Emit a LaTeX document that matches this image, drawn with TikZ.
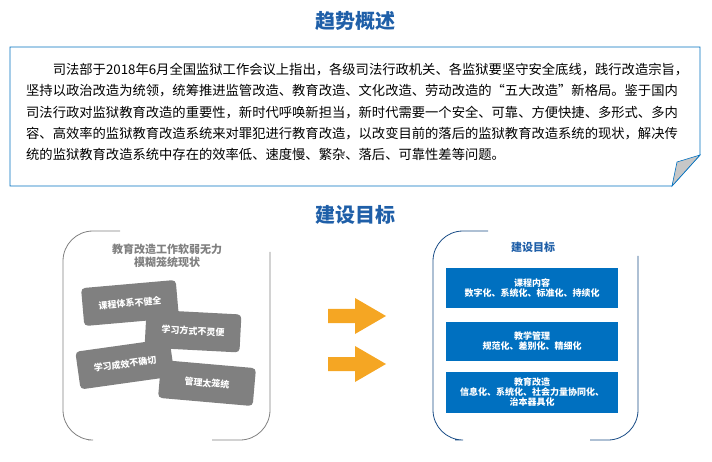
\documentclass[tikz,border=0pt]{standalone}
\usepackage{fontspec}
\setmainfont{Noto Sans CJK SC}
\definecolor{tblue}{HTML}{1F5FA8}
\definecolor{bbox}{HTML}{0070C0}
\definecolor{gbox}{HTML}{808080}
\definecolor{garr}{HTML}{F5A623}
\begin{document}
\begin{tikzpicture}[x=1pt,y=-1pt,
  ttl/.style={font=\bfseries\fontsize{20}{22}\selectfont,text=tblue},
  gb/.style={fill=gbox,rounded corners=4pt,minimum width=95pt,minimum height=38pt,text=white,font=\bfseries\fontsize{9}{10}\selectfont},
  bb/.style={fill=bbox,minimum width=172pt,text=white,font=\bfseries\fontsize{9}{10.5}\selectfont,align=center},
  arr/.style={fill=garr},
  brk/.style={line width=0.8pt,rounded corners=30pt}]
\useasboundingbox (0,0) rectangle (712,462);
\node[ttl] (t1) at (355,21) {趋势概述};
\draw[bbox,line width=0.8pt,fill=white] (10,47) -- (700,47) -- (700,155) -- (672,186) -- (10,186) -- cycle;
\draw[bbox,line width=0.6pt,fill=black!22] (700,155) -- (672,186) -- (677,162) -- cycle;
\node[anchor=north west,font=\fontsize{13.3}{21.3}\selectfont,inner sep=0pt,align=left] (txt) at (26,63) {\hspace*{26.6pt}司法部于2018年6月全国监狱工作会议上指出，各级司法行政机关、各监狱要坚守安全底线，践行改造宗旨，\\坚持以政治改造为统领，统筹推进监管改造、教育改造、文化改造、劳动改造的“五大改造”新格局。鉴于国内\\司法行政对监狱教育改造的重要性，新时代呼唤新担当，新时代需要一个安全、可靠、方便快捷、多形式、多内\\容、高效率的监狱教育改造系统来对罪犯进行教育改造，以改变目前的落后的监狱教育改造系统的现状，解决传\\统的监狱教育改造系统中存在的效率低、速度慢、繁杂、落后、可靠性差等问题。};
\node[ttl] (t2) at (355,215) {建设目标};
% left panel
\draw[gbox,brk] (120,231) -- (63,231) -- (63,440) -- (88,440);
\draw[gbox,brk] (270,252) -- (270,440) -- (212,440);
\node[font=\bfseries\fontsize{11}{12.5}\selectfont,text=gbox,align=center] (lt) at (167,256) {教育改造工作软弱无力\\模糊笼统现状};
\node[gb,rotate=5] (g1) at (130,303) {课程体系不健全};
\node[gb,rotate=-3] (g2) at (193,331) {学习方式不灵便};
\node[gb,rotate=8] (g3) at (125,364) {学习成效不确切};
\node[gb,rotate=-5] (g4) at (207,383) {管理太笼统};
% arrows
\fill[arr] (328,309) -- (355,309) -- (355,298) -- (386,316) -- (355,334) -- (355,323) -- (328,323) -- cycle;
\fill[arr] (328,357) -- (355,357) -- (355,346) -- (386,364) -- (355,382) -- (355,371) -- (328,371) -- cycle;
% right panel
\draw[tblue!80!black,brk] (488,231) -- (433,231) -- (433,440) -- (455,440);
\draw[tblue!80!black,brk] (638,256) -- (638,440) -- (590,440);
\node[font=\bfseries\fontsize{11}{12}\selectfont,text=tblue] (rt) at (533,247) {建设目标};
\node[bb,minimum height=40pt] (b1) at (532,288) {课程内容\\数字化、系统化、标准化、持续化};
\node[bb,minimum height=39pt] (b2) at (532,341) {教学管理\\规范化、差别化、精细化};
\node[bb,minimum height=41pt,font=\bfseries\fontsize{9}{10}\selectfont] (b3) at (532,392) {教育改造\\信息化、系统化、社会力量协同化、\\治本器具化};
\end{tikzpicture}
\end{document}
